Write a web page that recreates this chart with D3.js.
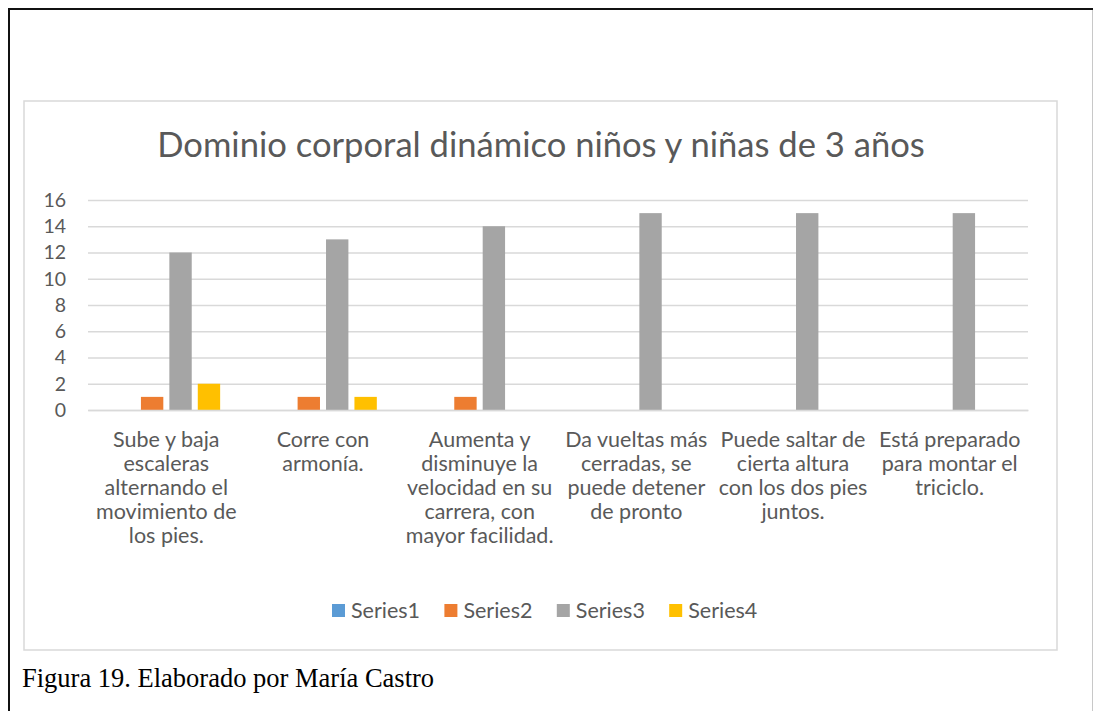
<!DOCTYPE html>
<html>
<head>
<meta charset="utf-8">
<script src="https://cdn.jsdelivr.net/npm/d3@7"></script>
<style>
  html, body { margin: 0; padding: 0; background: #fff; }
  svg { display: block; }
</style>
</head>
<body>
<div id="chart"></div>
<script>
// data
const categories = [
  "Sube y baja\nescaleras\nalternando el\nmovimiento de\nlos pies.",
  "Corre con\narmonía.",
  "Aumenta y\ndisminuye la\nvelocidad en su\ncarrera, con\nmayor facilidad.",
  "Da vueltas más\ncerradas, se\npuede detener\nde pronto",
  "Puede saltar de\ncierta altura\ncon los dos pies\njuntos.",
  "Está preparado\npara montar el\ntriciclo."
];
const seriesNames = ["Series1", "Series2", "Series3", "Series4"];
const series1 = [0, 0, 0, 0, 0, 0];
const series2 = [1, 1, 1, 0, 0, 0];
const series3 = [12, 13, 14, 15, 15, 15];
const series4 = [2, 1, 0, 0, 0, 0];
const yTicks = [0, 2, 4, 6, 8, 10, 12, 14, 16];
const colors = ["#5b9bd5", "#ed7d31", "#a5a5a5", "#ffc000"];
const titleText = "Dominio corporal dinámico niños y niñas de 3 años";
const captionText = "Figura 19. Elaborado por María Castro";

const allSeries = [series1, series2, series3, series4];

var W = 1093, H = 711;
var font = "Lato, 'Open Sans', sans-serif";
var textColor = "#595959";
var gridColor = "#d9d9d9";

var svg = d3
  .select("#chart")
  .append("svg")
  .attr("width", W)
  .attr("height", H);

// page frame (document border)
svg.append("line").attr("x1", 8).attr("x2", W).attr("y1", 9).attr("y2", 9)
  .attr("stroke", "#111").attr("stroke-width", 2);
svg.append("line").attr("x1", 9).attr("x2", 9).attr("y1", 8).attr("y2", H)
  .attr("stroke", "#111").attr("stroke-width", 2);
svg.append("line").attr("x1", 1092.5).attr("x2", 1092.5).attr("y1", 10).attr("y2", H)
  .attr("stroke", "#c8c8c8").attr("stroke-width", 1);

// chart area box
svg.append("rect")
  .attr("x", 24).attr("y", 101)
  .attr("width", 1033).attr("height", 549)
  .attr("fill", "#fff")
  .attr("stroke", gridColor)
  .attr("stroke-width", 1.5);

// title
svg.append("text")
  .attr("x", 541).attr("y", 157)
  .attr("text-anchor", "middle")
  .style("font-family", font)
  .style("font-size", "34.6px")
  .style("fill", textColor)
  .text(titleText);

// plot area
var plot = { left: 88, right: 1028, top: 200, bottom: 410 };
var plotW = plot.right - plot.left;

var g = svg.append("g")
  .attr("transform", "translate(" + plot.left + "," + plot.top + ")");

var x0 = d3.scaleBand()
  .domain(d3.range(categories.length))
  .range([0, plotW])
  .paddingInner(0.313)
  .paddingOuter(0.1565);

var x1 = d3.scaleBand()
  .domain(d3.range(seriesNames.length))
  .range([0, x0.bandwidth()])
  .paddingInner(0.2126)
  .paddingOuter(0);

var y = d3.scaleLinear()
  .domain([0, 16])
  .range([plot.bottom - plot.top, 0]);

// y axis with gridlines
var yAxis = g.append("g")
  .call(d3.axisLeft(y).tickValues(yTicks).tickSize(-plotW).tickPadding(22));
yAxis.select(".domain").remove();
yAxis.selectAll(".tick line")
  .attr("stroke", gridColor)
  .attr("stroke-width", 1.4);
yAxis.selectAll(".tick text")
  .style("font-family", font)
  .style("font-size", "19.5px")
  .style("fill", textColor);

// bars
var groups = g.selectAll(".cat")
  .data(categories.map((c, i) => i))
  .enter()
  .append("g")
  .attr("class", "cat")
  .attr("transform", function (i) {
    return "translate(" + x0(i) + ",0)";
  });

groups.selectAll("rect")
  .data(function (i) {
    return allSeries.map((s, k) => ({ k: k, v: s[i] }));
  })
  .enter()
  .append("rect")
  .attr("x", (d) => x1(d.k))
  .attr("y", (d) => y(d.v))
  .attr("width", x1.bandwidth())
  .attr("height", (d) => y(0) - y(d.v))
  .style("fill", (d) => colors[d.k]);

// category axis
var xAxis = g.append("g")
  .attr("transform", "translate(0," + (plot.bottom - plot.top) + ")")
  .call(d3.axisBottom(x0).tickSize(0).tickFormat(""));
xAxis.select(".domain")
  .attr("stroke", gridColor)
  .attr("stroke-width", 1.4);

xAxis.selectAll(".tick text").remove();
xAxis.selectAll(".tick").each(function (i) {
  var t = d3.select(this).append("text")
    .attr("text-anchor", "middle")
    .attr("y", 37)
    .style("font-family", font)
    .style("font-size", "21.5px")
    .style("fill", textColor);
  categories[i].split("\n").forEach(function (line, j) {
    t.append("tspan").attr("x", 0).attr("dy", j === 0 ? 0 : 24).text(line);
  });
});

// legend
var legend = svg.append("g")
  .attr("transform", "translate(332,604)");
var items = legend.selectAll("g")
  .data(seriesNames)
  .enter()
  .append("g")
  .attr("transform", (d, i) => "translate(" + i * 112.4 + ",0)");
items.append("rect")
  .attr("width", 13).attr("height", 13)
  .style("fill", (d, i) => colors[i]);
items.append("text")
  .attr("x", 19).attr("y", 14)
  .style("font-family", font)
  .style("font-size", "21.5px")
  .style("fill", textColor)
  .text((d) => d);

// caption below the chart
svg.append("text")
  .attr("x", 22).attr("y", 687)
  .style("font-family", "'Liberation Serif', 'Times New Roman', serif")
  .style("font-size", "26.5px")
  .style("fill", "#000")
  .text(captionText);
</script>
</body>
</html>
